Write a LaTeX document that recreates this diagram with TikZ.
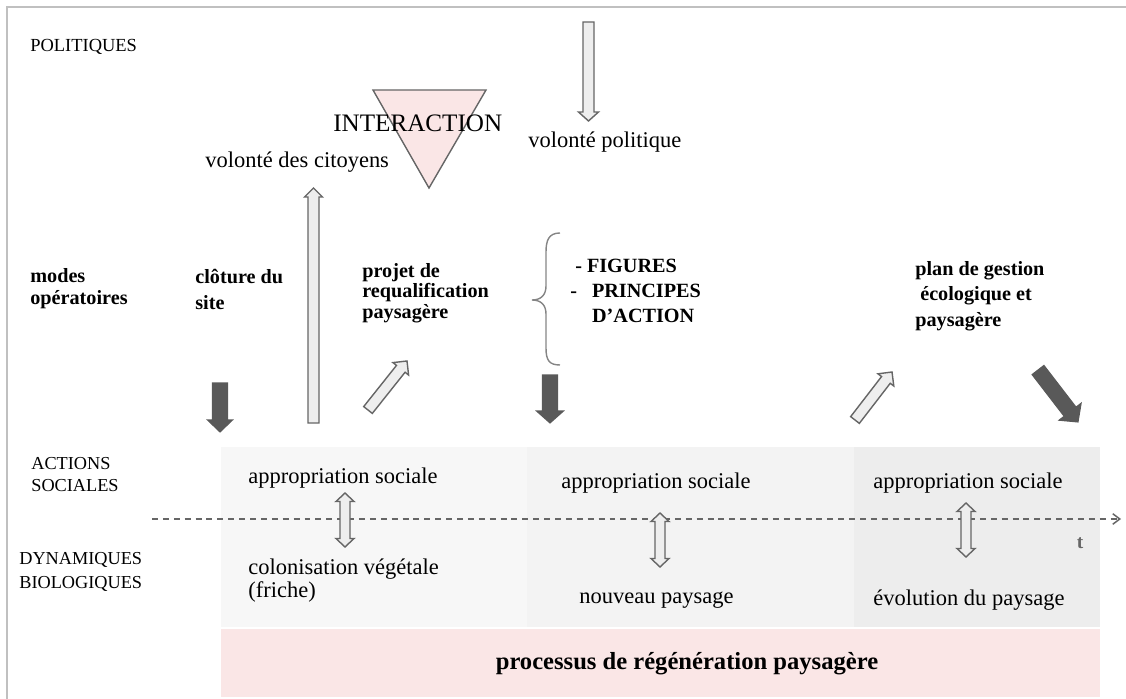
\documentclass[tikz,border=0pt]{standalone}
\usepackage{fontspec}
\setmainfont{Liberation Serif}
\usetikzlibrary{calc,arrows.meta}

\definecolor{framegray}{HTML}{C0C0C0}
\definecolor{edgegray}{HTML}{666666}
\definecolor{arrowfill}{HTML}{EEEEEE}
\definecolor{arrowdark}{HTML}{595959}
\definecolor{pinkfill}{HTML}{FAE6E6}
\definecolor{zoneA}{HTML}{F7F7F7}
\definecolor{zoneB}{HTML}{F3F3F3}
\definecolor{zoneC}{HTML}{EDEDED}

% single block arrow: #1 tail, #2 tip, #3 shaft half-width, #4 head half-width, #5 head length, #6 style
\newcommand\blockarrow[6]{%
  \coordinate (ba-h) at ($(#2)!#5!(#1)$);
  \draw[#6] ($(#1)!#3!90:(#2)$) -- ($(ba-h)!#3!90:(#2)$) -- ($(ba-h)!#4!90:(#2)$)
    -- (#2) -- ($(ba-h)!#4!-90:(#2)$) -- ($(ba-h)!#3!-90:(#2)$)
    -- ($(#1)!#3!-90:(#2)$) -- cycle;}
% two-headed block arrow, same arguments
\newcommand\twowayarrow[6]{%
  \coordinate (tw-a) at ($(#1)!#5!(#2)$);
  \coordinate (tw-b) at ($(#2)!#5!(#1)$);
  \draw[#6] (#1) -- ($(tw-a)!#4!90:(#2)$) -- ($(tw-a)!#3!90:(#2)$)
    -- ($(tw-b)!#3!90:(#2)$) -- ($(tw-b)!#4!90:(#2)$) -- (#2)
    -- ($(tw-b)!#4!-90:(#2)$) -- ($(tw-b)!#3!-90:(#2)$)
    -- ($(tw-a)!#3!-90:(#2)$) -- ($(tw-a)!#4!-90:(#2)$) -- cycle;}

% multi-line nodes: the base anchor sits on the baseline of the last line
\tikzset{
  lbl/.style={inner sep=0pt, anchor=base west, align=left, font=\fontsize{12.8}{13}\selectfont},
  rowlabel/.style={inner sep=0pt, anchor=base west, align=left, font=\fontsize{10.4}{12.8}\selectfont},
  modelabel/.style={inner sep=0pt, anchor=base west, align=left, font=\bfseries\fontsize{11.5}{14.2}\selectfont},
  lightarrow/.style={draw=edgegray, fill=arrowfill, line width=0.8pt, line join=miter},
  darkarrow/.style={draw=arrowdark, fill=arrowdark, line width=0.6pt, line join=miter},
}

\begin{document}
\begin{tikzpicture}[x=0.02cm, y=-0.02cm]
\useasboundingbox (0,0) rectangle (1126,699);

% frame
\draw[framegray, line width=1.1pt] (7,699) -- (7,7) -- (1126,7);

% background zones
\fill[zoneA] (221,447) rectangle (527,627);
\fill[zoneB] (527,447) rectangle (854,627);
\fill[zoneC] (854,447) rectangle (1100,627);
\fill[pinkfill] (221,629) rectangle (1100,697);

% interaction triangle
\draw[edgegray, fill=pinkfill, line width=0.8pt, line join=miter] (373,90) -- (486,90) -- (429,188) -- cycle;

% row labels
\node[rowlabel, font=\fontsize{10.5}{12.8}\selectfont] (pol) at (30,52) {POLITIQUES};
\node[modelabel, font=\bfseries\fontsize{11.5}{13}\selectfont] (modes) at (30,305) {modes\\opératoires};
\node[rowlabel, font=\fontsize{10.4}{12.5}\selectfont] (actions) at (31,491) {ACTIONS\\SOCIALES};
\node[rowlabel, font=\fontsize{10.4}{13.6}\selectfont] (dyn) at (19,588) {DYNAMIQUES\\BIOLOGIQUES};

% upper texts
\node[inner sep=0pt, anchor=base west, font=\fontsize{14.3}{16}\selectfont] (inter) at (333,132) {INTERACTION};
\node[lbl] (citoyens) at (205,168) {volonté des citoyens};
\node[lbl] (politique) at (528,148) {volonté politique};

% operating modes
\node[modelabel, font=\bfseries\fontsize{11.5}{15}\selectfont] (cloture) at (195,310) {clôture du\\site};
\node[modelabel, font=\bfseries\fontsize{11.5}{11.4}\selectfont] (projet) at (362,318) {projet de\\requalification\\paysagère};
\node[modelabel] (figures) at (570,322) {\hspace{2.8pt}- FIGURES\\-\hspace{8.5pt}PRINCIPES\\\hspace{12.4pt}D’ACTION};
\node[modelabel, font=\bfseries\fontsize{11.5}{14.5}\selectfont] (plan) at (915,326) {plan de gestion\\\hspace{2.8pt}écologique et\\paysagère};

% brace
\draw[edgegray!80, line width=0.8pt] (560,233) .. controls (549,233) and (546,240) .. (546,252)
  -- (546,286) .. controls (546,295) and (541,300) .. (532,300)
  .. controls (541,300) and (546,305) .. (546,314)
  -- (546,348) .. controls (546,360) and (549,365) .. (560,365);

% arrow end points
\coordinate (vp-s) at (588.5,22);   \coordinate (vp-e) at (588.5,121);
\coordinate (vc-s) at (313.5,423);  \coordinate (vc-e) at (313.5,188);
\coordinate (cl-s) at (220,383);    \coordinate (cl-e) at (220,432);
\coordinate (pj-s) at (368,410);    \coordinate (pj-e) at (407,361);
\coordinate (fg-s) at (550,375);    \coordinate (fg-e) at (550,423);
\coordinate (pg-s) at (855,420);    \coordinate (pg-e) at (892,372);
\coordinate (pd-s) at (1038,370);   \coordinate (pd-e) at (1078,422);

\blockarrow{vp-s}{vp-e}{0.11cm}{0.2cm}{0.18cm}{lightarrow}
\blockarrow{vc-s}{vc-e}{0.11cm}{0.18cm}{0.18cm}{lightarrow}
\blockarrow{pj-s}{pj-e}{0.11cm}{0.2cm}{0.2cm}{lightarrow}
\blockarrow{pg-s}{pg-e}{0.11cm}{0.2cm}{0.2cm}{lightarrow}
\blockarrow{cl-s}{cl-e}{0.15cm}{0.25cm}{0.24cm}{darkarrow}
\blockarrow{fg-s}{fg-e}{0.15cm}{0.27cm}{0.24cm}{darkarrow}
\blockarrow{pd-s}{pd-e}{0.15cm}{0.28cm}{0.26cm}{darkarrow}

% time axis
\coordinate (t-s) at (152,519);
\coordinate (t-e) at (1121,519);
\draw[edgegray, line width=0.85pt, dash pattern=on 3.4pt off 2.8pt, -{Straight Barb[length=4pt,width=6pt]}] (t-s) -- (t-e);
\node[inner sep=0pt, anchor=base, text=edgegray, font=\bfseries\fontsize{11}{13}\selectfont] (t) at (1080,548) {t};

% social / biological states
\node[lbl] (as1) at (248,483) {appropriation sociale};
\node[lbl] (cv) at (248,597) {colonisation végétale\\(friche)};
\node[lbl] (as2) at (561,488) {appropriation sociale};
\node[lbl] (np) at (579,603) {nouveau paysage};
\node[lbl] (as3) at (873,488) {appropriation sociale};
\node[lbl] (ep) at (873,605) {évolution du paysage};

\coordinate (d1-s) at (345,493); \coordinate (d1-e) at (345,547);
\coordinate (d2-s) at (660,513); \coordinate (d2-e) at (660,567);
\coordinate (d3-s) at (966,503); \coordinate (d3-e) at (966,557);
\twowayarrow{d1-s}{d1-e}{0.1cm}{0.18cm}{0.17cm}{lightarrow}
\twowayarrow{d2-s}{d2-e}{0.1cm}{0.18cm}{0.17cm}{lightarrow}
\twowayarrow{d3-s}{d3-e}{0.1cm}{0.18cm}{0.17cm}{lightarrow}

% process banner
\node[inner sep=0pt, anchor=base, font=\bfseries\fontsize{14}{16}\selectfont] (proc) at (687,669) {processus de régénération paysagère};
\end{tikzpicture}
\end{document}
